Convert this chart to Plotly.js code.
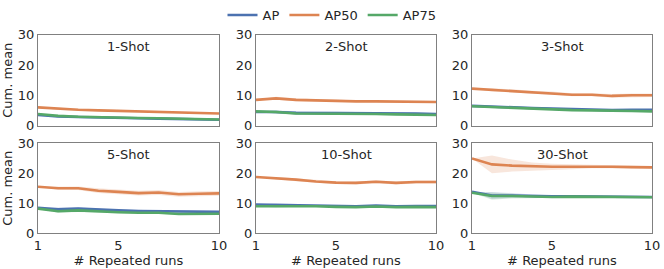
<!DOCTYPE html>
<html><head><meta charset="utf-8">
<script src="https://cdn.plot.ly/plotly-3.0.1.min.js"></script>
<style>html,body{margin:0;padding:0;background:#fff}#c{width:664px;height:269px}</style>
</head><body><div id="c"></div>
<script>
const runs = [1,2,3,4,5,6,7,8,9,10];
const panelTitles = ['1-Shot','2-Shot','3-Shot','5-Shot','10-Shot','30-Shot'];
const seriesNames = ['AP','AP50','AP75'];

const ap_1 = [3.5,3.0,2.8,2.6,2.5,2.4,2.3,2.2,2.0,1.9];
const ap50_1 = [6.0,5.5,5.2,5.0,4.8,4.7,4.6,4.4,4.2,4.0];
const ap75_1 = [3.8,3.2,2.9,2.7,2.6,2.5,2.4,2.3,2.2,2.0];

const ap_2 = [4.5,4.5,4.2,4.2,4.2,4.0,4.0,4.0,4.0,3.8];
const ap50_2 = [8.5,9.0,8.5,8.3,8.3,8.0,8.0,7.9,8.0,7.8];
const ap75_2 = [4.7,4.5,4.0,4.0,4.0,3.8,3.8,3.7,3.7,3.5];

const ap_3 = [6.5,6.2,6.0,5.8,5.6,5.4,5.3,5.1,5.2,5.2];
const ap50_3 = [12.2,11.8,11.5,11.0,10.8,10.2,10.2,9.8,10.0,10.0];
const ap75_3 = [6.4,6.1,5.8,5.6,5.4,5.1,5.0,4.8,4.8,4.7];

const ap_5 = [8.5,8.0,8.2,7.8,7.6,7.4,7.3,7.1,7.1,7.1];
const ap50_5 = [15.5,15.0,15.0,14.2,13.8,13.4,13.6,13.0,13.2,13.3];
const ap75_5 = [8.2,7.3,7.6,7.2,7.0,6.8,6.8,6.4,6.5,6.5];

const ap_10 = [9.6,9.5,9.4,9.2,9.0,9.0,9.2,9.0,9.1,9.1];
const ap50_10 = [18.8,18.4,17.9,17.3,16.9,16.8,17.2,16.8,17.1,17.1];
const ap75_10 = [9.0,9.0,9.2,9.0,8.8,8.7,8.9,8.7,8.8,8.7];

const ap_30 = [13.8,12.6,12.6,12.4,12.3,12.3,12.3,12.3,12.2,12.1];
const ap50_30 = [25.0,23.0,22.6,22.3,22.2,22.2,22.3,22.2,22.1,22.0];
const ap75_30 = [13.5,12.4,12.4,12.2,12.1,12.2,12.2,12.2,12.1,12.0];

// half-widths of the shaded confidence bands
const band_1 = [0,0.4,0.35,0.3,0.25,0.2,0.2,0.2,0.2,0.2];
const band_2 = [0,0.5,0.5,0.4,0.35,0.3,0.3,0.3,0.3,0.3];
const band_3 = [0,0.5,0.5,0.5,0.5,0.5,0.5,0.6,0.6,0.6];
const band_5 = [0,0.5,0.6,0.8,0.8,0.8,0.8,0.8,0.8,0.8];
const band_10 = [0,0.4,0.5,0.5,0.5,0.5,0.5,0.5,0.5,0.5];
const band_30 = [0,3.0,2.0,1.3,1.0,0.8,0.6,0.5,0.4,0.4];
const bandSmall_30 = [0,1.2,0.8,0.5,0.4,0.3,0.3,0.2,0.2,0.2];

const panels = [
  {ap:ap_1, ap50:ap50_1, ap75:ap75_1, b:band_1, bs:band_1},
  {ap:ap_2, ap50:ap50_2, ap75:ap75_2, b:band_2, bs:band_2},
  {ap:ap_3, ap50:ap50_3, ap75:ap75_3, b:band_3, bs:band_1},
  {ap:ap_5, ap50:ap50_5, ap75:ap75_5, b:band_5, bs:band_2},
  {ap:ap_10, ap50:ap50_10, ap75:ap75_10, b:band_10, bs:band_1},
  {ap:ap_30, ap50:ap50_30, ap75:ap75_30, b:band_30, bs:bandSmall_30},
];

const colors = ['#4c72b0','#dd8452','#55a868'];
const fills = ['rgba(76,114,176,0.2)','rgba(221,132,82,0.2)','rgba(85,168,104,0.2)'];

const W=664,H=269;
const xd = [[38,219],[256,436],[472,652]];
const yd = [[34,125],[143,233]];
const font = {family:'DejaVu Sans, sans-serif', size:13, color:'#262626'};

const traces=[]; const layout = {
  width:W,height:H,margin:{l:0,r:0,t:0,b:0},
  paper_bgcolor:'#fff',plot_bgcolor:'#fff',font:font,
  showlegend:true,
  legend:{orientation:'h',x:0.5,xanchor:'center',y:1-14/H,yanchor:'middle',font:{...font,size:13},itemwidth:30,tracegroupgap:0},
  annotations:[]
};
panels.forEach((p,i)=>{
  const k=i+1, r=Math.floor(i/3), c=i%3;
  const xa='xaxis'+(k===1?'':k), ya='yaxis'+(k===1?'':k);
  const xr='x'+(k===1?'':k), yr='y'+(k===1?'':k);
  layout[xa]={domain:[xd[c][0]/W,xd[c][1]/W],anchor:yr,range:[1,10],tickvals:[1,5,10],
    showticklabels:r===1,showgrid:false,zeroline:false,showline:true,mirror:true,linecolor:'#808080',linewidth:1.2,
    ticks:'',tickfont:font,
    title:r===1?{text:'# Repeated runs',font:font,standoff:2}:undefined};
  layout[ya]={domain:[1-yd[r][1]/H,1-yd[r][0]/H],anchor:xr,range:[0,30],tickvals:[0,10,20,30],
    showgrid:false,zeroline:false,showline:true,mirror:true,linecolor:'#808080',linewidth:1.2,ticks:'',tickfont:font,
    title:c===0?{text:'Cum. mean',font:font,standoff:4}:undefined};
  const series=[p.ap,p.ap50,p.ap75];
  const bands=[p.bs,p.b,p.bs];
  series.forEach((s,j)=>{
    const up=s.map((v,q)=>v+bands[j][q]), lo=s.map((v,q)=>v-bands[j][q]);
    traces.push({x:runs.concat(runs.slice().reverse()),y:up.concat(lo.slice().reverse()),fill:'toself',
      fillcolor:fills[j],line:{width:0},mode:'lines',xaxis:xr,yaxis:yr,showlegend:false,hoverinfo:'skip'});
  });
  series.forEach((s,j)=>{
    traces.push({x:runs,y:s,mode:'lines',name:seriesNames[j],line:{color:colors[j],width:2.6},
      xaxis:xr,yaxis:yr,showlegend:i===0,legendgroup:seriesNames[j]});
  });
  layout.annotations.push({text:panelTitles[i],xref:xr+' domain',yref:yr+' domain',x:0.5,y:0.98,
    xanchor:'center',yanchor:'top',showarrow:false,font:font});
});
Plotly.newPlot('c',traces,layout,{staticPlot:true});
</script></body></html>
